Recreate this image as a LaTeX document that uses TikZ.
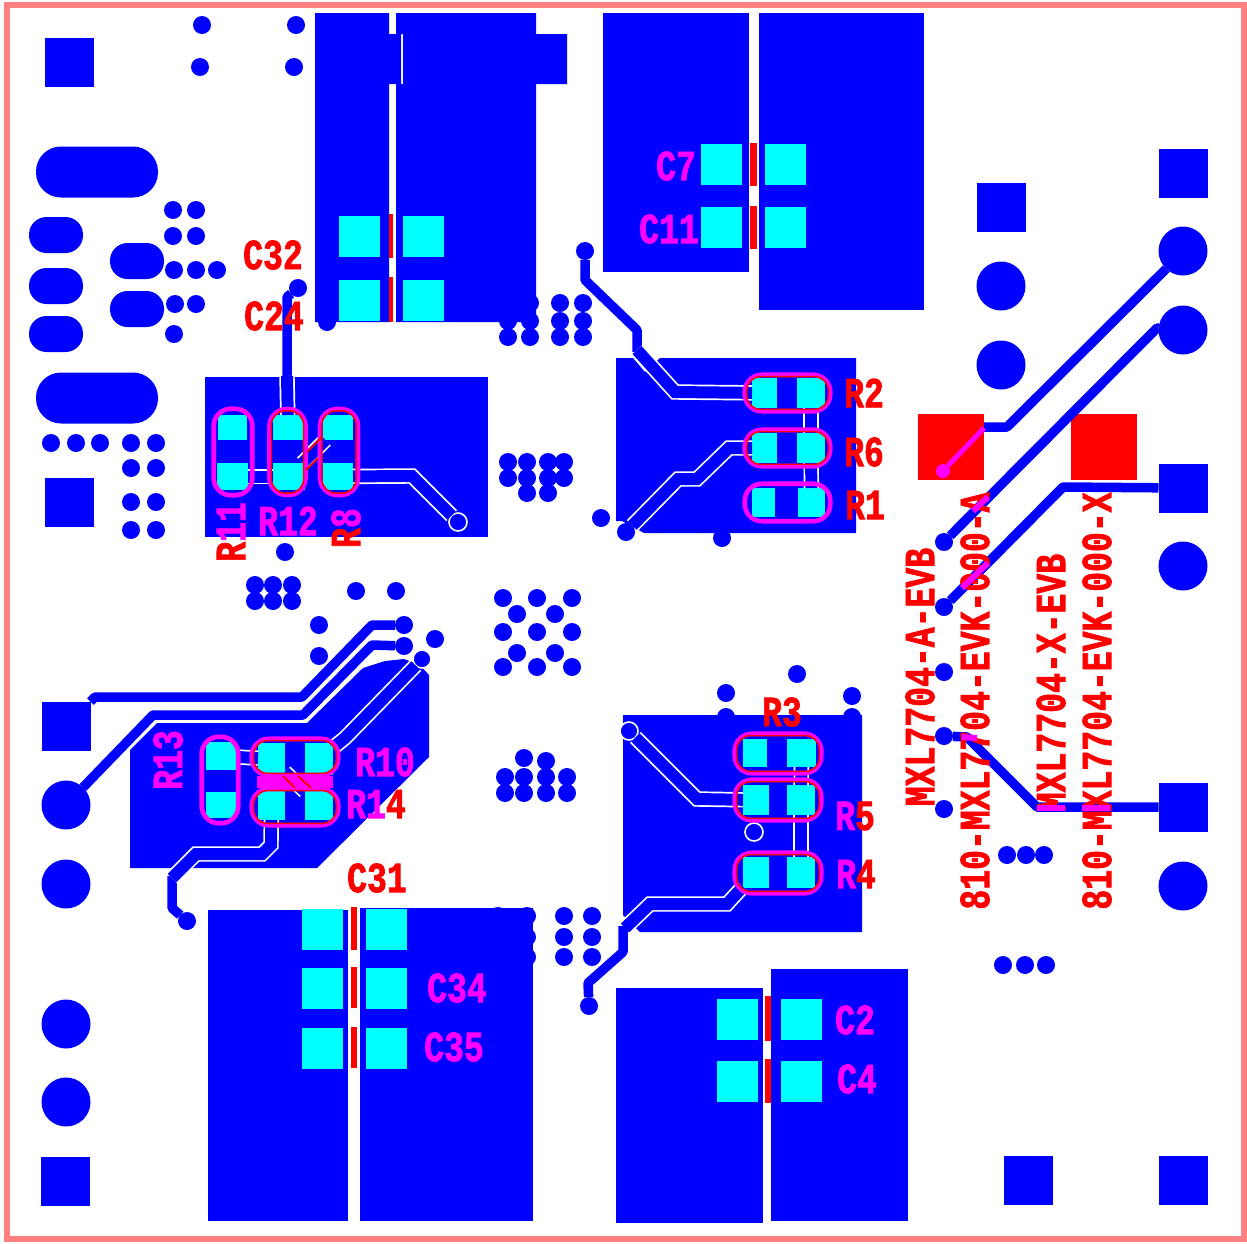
\documentclass[tikz,border=0pt]{standalone}
\usepackage{fontspec}
\newfontfamily\silkfont[FakeStretch=0.77,FakeBold=1.6]{Liberation Mono Bold}
\definecolor{copper}{RGB}{0,0,255}
\definecolor{padcyan}{RGB}{0,255,255}
\definecolor{silkmag}{RGB}{255,0,255}
\definecolor{boardedge}{RGB}{255,128,128}
\tikzset{
   pour/.style={fill=copper},
   via/.style={circle,fill=copper,minimum size=18pt,inner sep=0pt,outer sep=0pt},
   ringvia/.style={via,draw=white,line width=1.6pt},
   squarepad/.style={rectangle,fill=copper,minimum size=49pt,inner sep=0pt,outer sep=0pt},
   roundpad/.style={circle,fill=copper,minimum size=49pt,inner sep=0pt,outer sep=0pt},
   bigoval/.style={rectangle,fill=copper,minimum width=122pt,minimum height=51pt,rounded corners=25pt,inner sep=0pt},
   smalloval/.style={rectangle,fill=copper,minimum width=54pt,minimum height=36pt,rounded corners=17.5pt,inner sep=0pt},
   smdpad/.style={rectangle,fill=padcyan,inner sep=0pt,outer sep=0pt},
   cappad/.style={smdpad,minimum width=41pt,minimum height=41pt},
   testpad/.style={rectangle,fill=red,minimum size=66pt,inner sep=0pt,outer sep=0pt},
   resbody/.style={rectangle,draw=silkmag,line width=4.6pt,rounded corners=17pt,inner sep=0pt},
   resinner/.style={rectangle,draw=red,line width=1.5pt,rounded corners=14pt,inner sep=0pt},
   trace/.style={draw=copper,line width=9.5pt,line join=round},
   gaptrace/.style={draw=white,line width=1.7pt,double=copper,double distance=12pt},
   overlap/.style={draw=silkmag,line width=6pt},
   silk/.style={font=\silkfont\fontsize{43pt}{43pt}\selectfont,text=red,inner sep=0pt},
   silkin/.style={silk,text=silkmag}
}
\begin{document}
\begin{tikzpicture}[x=1pt,y=-1pt]
   \useasboundingbox (0,0) rectangle (1247,1243);
   \draw[boardedge,line width=6pt] (7,5) rectangle (1244,1239);

   \fill[pour] (315,13) -- (389,13) -- (389,34) -- (401,34) -- (401,84) -- (389,84) -- (389,322) -- (315,322) -- cycle;
   \fill[pour] (396,13) -- (536,13) -- (536,34) -- (567,34) -- (567,84) -- (536,84) -- (536,322) -- (396,322) -- (396,84) -- (403,84) -- (403,34) -- (396,34) -- cycle;
   \fill[pour] (603,13) rectangle (749,272);
   \fill[pour] (759,13) rectangle (924,310);
   \fill[pour] (205,377) rectangle (488,537);
   \fill[pour] (616,358) -- (633,358) -- (645,372) -- (660,358) -- (856,358) -- (856,533) -- (644,533) -- (622,521) -- (616,521) -- cycle;
   \fill[pour] (130,868) -- (130,750) -- (157,723) -- (307,723) -- (363,668) -- (385,661) -- (404,659) -- (420,665) -- (429,675) -- (429,757) -- (317,868) -- cycle;
   \fill[pour] (623,715) -- (862,715) -- (862,932) -- (640,932) -- (623,915) -- cycle;
   \fill[pour] (208,910) rectangle (348,1221);
   \fill[pour] (360,908) rectangle (533,1221);
   \fill[pour] (616,988) rectangle (763,1223);
   \fill[pour] (771,969) rectangle (908,1221);

   \foreach \x/\y [count=\i] in {69/62,69/502,1183/173,1001/207,1028/1180,1183/1180,65/1181}
      \node[squarepad] (sq\i) at (\x,\y) {};
   \node[squarepad] (jleft) at (66,726) {};
   \node[squarepad] (jout) at (1183,488) {};
   \node[squarepad] (jsns) at (1183,807) {};
   \foreach \x/\y [count=\i] in {1001/286,1001/365,1183/566,1183/886,66/884,66/1024,66/1102}
      \node[roundpad] (rd\i) at (\x,\y) {};
   \node[roundpad] (jvina) at (1183,251) {};
   \node[roundpad] (jvinb) at (1183,330) {};
   \node[roundpad] (jfb) at (66,805) {};
   \node[bigoval] (ovala) at (97,172) {};
   \node[bigoval] (ovalb) at (97,398) {};
   \foreach \x/\y [count=\i] in {56/235,56/286,56/334,137/261,137/309}
      \node[smalloval] (oval\i) at (\x,\y) {};

   \foreach \x/\y [count=\i] in {202/25,296/25,200/67,294/67,173/210,196/210,173/236,196/236,174/270,196/270,217/270,175/304,196/304,174/334,
      51/443,76/443,100/443,131/443,156/443,131/468,156/468,131/502,156/502,131/530,156/530,285/552,
      255/585,273/585,292/585,255/601,273/601,292/601,356/591,396/591,327/322,
      508/337,530/337,508/321,530/321,530/303,560/303,583/303,560/321,583/321,560/337,583/337,
      508/462,527/462,548/462,564/462,508/478,527/478,548/478,564/478,527/493,548/493,601/518,722/538,
      503/598,537/598,572/598,517/614,555/614,503/632,537/632,572/632,517/653,555/653,503/667,537/667,572/667,
      524/758,546/761,505/777,524/777,546/777,567/777,505/793,524/793,546/793,567/793,
      319/625,319/656,435/639,726/693,797/674,852/696,726/717,852/717,
      498/916,527/916,527/937,527/957,564/916,592/916,564/937,592/937,564/957,592/957,
      944/672,944/809,1007/855,1026/855,1044/855,1003/965,1025/965,1046/965}
      \node[via] (v\i) at (\x,\y) {};

   \node[via] (vc32) at (298,288) {};
   \node[via] (vr2) at (585,251) {};
   \node[via] (vr6) at (626,532) {};
   \node[via] (vupa) at (404,625) {};
   \node[via] (vupb) at (404,646) {};
   \node[via] (vr14) at (187,921) {};
   \node[via] (vr4) at (589,1006) {};
   \node[via] (vina) at (944,542) {};
   \node[via] (vout) at (944,607) {};
   \node[via] (vsns) at (944,736) {};
   \node[ringvia] (vr8) at (458,522) {};
   \node[ringvia] (vr5) at (629,731) {};
   \node[ringvia] (vr10) at (422,659) {};
   \node[ringvia] (vfree) at (754,832) {};

   \node[cappad] (c1a) at (359,236) {};
   \node[cappad] (c1b) at (423,236) {};
   \node[cappad] (c2a) at (359,300) {};
   \node[cappad] (c2b) at (423,300) {};
   \node[cappad] (c7a) at (721,164) {};
   \node[cappad] (c7b) at (785,164) {};
   \node[cappad] (c11a) at (721,227) {};
   \node[cappad] (c11b) at (785,227) {};
   \node[cappad] (c31a) at (322,929) {};
   \node[cappad] (c31b) at (386,929) {};
   \node[cappad] (c34a) at (322,988) {};
   \node[cappad] (c34b) at (386,988) {};
   \node[cappad] (c35a) at (322,1048) {};
   \node[cappad] (c35b) at (386,1048) {};
   \node[cappad] (c2a) at (737,1019) {};
   \node[cappad] (c2b) at (801,1019) {};
   \node[cappad] (c4a) at (737,1081) {};
   \node[cappad] (c4b) at (801,1081) {};

   \foreach \n/\x/\y/\w/\h in {r11a/232.5/427.5/29/25,r11b/232.5/476.5/31/27,r12a/288/427.5/30/25,r12b/289/476.5/32/27,
      r8a/338/427.5/30/25,r8b/338/476.5/30/27,r2a/764.5/393/25/30,r2b/811/393/28/30,r6a/764.5/448/25/30,r6b/811/448/28/30,
      r1a/763.5/502.5/23/29,r1b/811.5/502.5/27/29,r13a/221.5/756/31/28,r13b/221/805/30/26,r10a/271.5/759/27/32,r10b/319/759/28/32,
      r14a/271.5/805/27/30,r14b/319/805/28/30,r3a/755/753/24/28,r3b/801.5/753/29/28,r5a/756/800/26/30,r5b/801/800/28/30,
      r4a/756/872.5/26/31,r4b/801/872.5/28/31}
      \node[smdpad,minimum width=\w pt,minimum height=\h pt] (\n) at (\x,\y) {};

   \node[testpad] (tpa) at (951,447) {};
   \node[testpad] (tpb) at (1103.5,447) {};

   \draw[trace] (vc32) -- (287,297) -- (287,378);
   \draw[gaptrace] (287,376) -- (r12a);
   \draw[gaptrace] (r11b) -- (r12b);
   \draw[gaptrace] (r12b) -- (r8a);
   \draw[gaptrace] (r8b) -- (412,476) -- (vr8);

   \draw[trace] (vr2) -- (585,280) -- (637,330) -- (637,352);
   \draw[gaptrace] (637,350) -- (675,392) -- (r2a);
   \draw[gaptrace] (vr6) -- (678,479) -- (697,479) -- (729,448) -- (r6a);
   \draw[gaptrace] (r2b) -- (r6b);
   \draw[gaptrace] (r6b) -- (r1b);

   \draw[trace] (jleft.north east) -- (95,697) -- (302,697) -- (372,625) -- (vupa);
   \draw[trace] (jfb) -- (153,715) -- (303,715) -- (372,645) -- (vupb);
   \draw[gaptrace] (vr10) -- (345,738) -- (r10b);
   \draw[gaptrace] (r13a) -- (r10a);
   \draw[gaptrace] (r10a) -- (r14b);
   \draw[trace] (vr14) -- (172,908) -- (172,876);
   \draw[gaptrace] (172,878) -- (196,854) -- (262,854) -- (271,845) -- (r14a);

   \draw[gaptrace] (vr5) -- (697,799) -- (r5a);
   \draw[gaptrace] (r3b) -- (r5b);
   \draw[gaptrace] (r5b) -- (r4b);
   \draw[gaptrace] (r4a) -- (727,904) -- (650,904) -- (625,928);
   \draw[trace] (vr4) -- (588,983) -- (623,952) -- (623,926);

   \draw[trace] (jvina) -- (1165,270) -- (1007,427) -- (tpa.east |- 0,427);
   \draw[trace] (jvinb) -- (1157,328) -- (vina);
   \draw[trace] (jout) -- (1063,487) -- (vout);
   \draw[trace] (vsns) -- (967,737) -- (1037,807) -- (jsns);

   \foreach \n/\x/\y/\w/\h in {r12/287.5/452/36/86,r8/339/452/38/86,r2/787.5/393/85.5/36.5,r6/787.5/448/85.5/36.5,
      r10/295/757/86.5/36.5,r14/295/807/86.5/36.5,r3/778/753.5/86.5/39.5,r5/778/800/86.5/40.5,r4/778/873/86.5/40.5}
      {
      \node[resbody,minimum width=\w pt,minimum height=\h pt] (\n) at (\x,\y) {};
      \node[resinner,minimum width=\w pt-3.6pt,minimum height=\h pt-3.6pt] (\n in) at (\x,\y) {};
      }
   \node[resbody,minimum width=38.5pt,minimum height=86.5pt] (r11) at (233,452) {};
   \node[resbody,minimum width=85.5pt,minimum height=37.5pt] (r1) at (787.5,502.5) {};
   \node[resbody,minimum width=36.5pt,minimum height=86.5pt] (r13) at (220,780) {};

   \fill[silkmag] (257,776) rectangle (333,788);
   \draw[red,line width=2pt] (283,776) -- (295,788);
   \draw[red,line width=2pt] (298,776) -- (311,788);
   \draw[red,line width=2pt] (322,437) -- (307,452);
   \draw[red,line width=2pt] (318,458) -- (306,470);

   \fill[red] (389,214) rectangle (393,258);
   \fill[red] (389,277) rectangle (393,322);
   \fill[red] (750,143) rectangle (757,186);
   \fill[red] (750,206) rectangle (757,249);
   \fill[red] (351,907) rectangle (357,950);
   \fill[red] (351,967) rectangle (357,1008);
   \fill[red] (351,1027) rectangle (357,1068);
   \fill[red] (765,996) rectangle (771,1041);
   \fill[red] (765,1059) rectangle (771,1103);

   \node[silk] (lc32) at (273,255) {C32};
   \node[silk] (lc24) at (274,316) {C24};
   \node[silkin] (lc7) at (676,166) {C7};
   \node[silkin] (lc11) at (669,229) {C11};
   \node[silk,rotate=90] (lr11) at (231,532) {R\textcolor{silkmag}{11}};
   \node[silkin] (lr12) at (288,521) {R12};
   \node[silk,rotate=90] (lr8) at (346,528) {R\textcolor{silkmag}{8}};
   \node[silk] (lr2) at (864,393) {R2};
   \node[silk] (lr6) at (864,452) {R6};
   \node[silk] (lr1) at (865,505) {R1};
   \node[silk] (lr3) at (782,712) {R3};
   \node[silk] (lr5) at (855,816) {\textcolor{silkmag}{R}5};
   \node[silk] (lr4) at (856,874) {\textcolor{silkmag}{R}4};
   \node[silkin] (lr10) at (385,762) {R10};
   \node[silk] (lr14) at (376,804) {\textcolor{silkmag}{R1}4};
   \node[silkin,rotate=90] (lr13) at (168,760) {R13};
   \node[silk] (lc31) at (377,878) {C31};
   \node[silkin] (lc34) at (457,988) {C34};
   \node[silkin] (lc35) at (454,1047) {C35};
   \node[silkin] (lc2) at (855,1020) {C2};
   \node[silkin] (lc4) at (857,1079) {C4};
   \node[silk,rotate=90] (lboarda) at (920,677) {MXL7704-A-EVB};
   \node[silk,rotate=90] (lkita) at (975,701) {810-MXL7704-EVK-000-A};
   \node[silk,rotate=90] (lboardx) at (1051,683) {MXL7704-X-EVB};
   \node[silk,rotate=90] (lkitx) at (1097,701) {810-MXL7704-EVK-000-X};

   \draw[overlap] (962,737) -- (977,738);
   \draw[overlap] (1037,808) -- (1065,808);
   \draw[overlap] (1082,808) -- (1110,808);
   \draw[overlap] (973,511) -- (988,497);
   \draw[overlap] (962,588) -- (988,563);
   \node[circle,fill=silkmag,minimum size=14pt,inner sep=0pt] (tpdot) at (943,471) {};
   \draw[silkmag,line width=5pt] (tpdot) -- (tpa.east |- 0,428);
\end{tikzpicture}
\end{document}
